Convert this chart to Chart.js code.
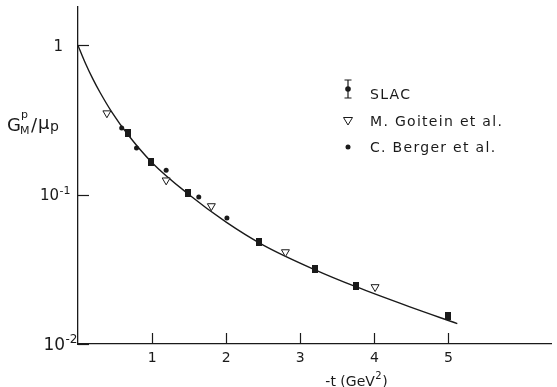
<!DOCTYPE html>
<html>
<head>
<meta charset="utf-8">
<script src="https://cdn.jsdelivr.net/npm/chart.js@4.4.0/dist/chart.umd.min.js"></script>
<style>
  html, body { margin: 0; padding: 0; background: #fff; }
  #wrap { width: 557px; height: 387px; }
</style>
</head>
<body>
<div id="wrap"><canvas id="chart" width="557" height="387"></canvas></div>
<script>
// values
const fitT = [0, 0.1, 0.2, 0.3, 0.45, 0.67, 1.0, 1.5, 2.0, 2.5, 3.2, 3.75, 4.47, 5.12];
const fitG = [1.0, 0.76, 0.597, 0.482, 0.362, 0.254, 0.164, 0.1, 0.0655, 0.046, 0.0314, 0.0242, 0.0178, 0.0137];

const slacT = [0.67, 0.99, 1.48, 2.44, 3.2, 3.75, 4.99];
const slacG = [0.259, 0.166, 0.103, 0.048, 0.032, 0.0245, 0.0154];

const goiteinT = [0.39, 1.19, 1.8, 2.8, 4.01];
const goiteinG = [0.352, 0.125, 0.084, 0.0413, 0.0241];

const bergerT = [0.59, 0.79, 1.19, 1.63, 2.01];
const bergerG = [0.28, 0.206, 0.146, 0.0966, 0.0698];

const xTickValues = [1, 2, 3, 4, 5];
const yTickValues = [0.01, 0.1, 1];
const yTickLabels = [["10", "-2"], ["10", "-1"], ["1", ""]];

const legendLabels = ["SLAC", "M. Goitein et al.", "C. Berger et al."];

const FONT = "'DejaVu Sans', sans-serif";
const INK = "#1a1a1a";

function pairs(xs, ys) {
  return xs.map((x, i) => ({ x: x, y: ys[i] }));
}

// small filled block used for the SLAC points
const slacMark = document.createElement("canvas");
slacMark.width = 6;
slacMark.height = 8;
(function () {
  const c = slacMark.getContext("2d");
  c.fillStyle = INK;
  c.fillRect(0, 0, 6, 8);
})();

// draws "base" with a raised "sup", right edge at xr
function drawPower(ctx, base, sup, xr, y, size) {
  ctx.font = size + "px " + FONT;
  const bw = ctx.measureText(base).width;
  ctx.font = Math.round(size * 0.7) + "px " + FONT;
  const sw = sup ? ctx.measureText(sup).width : 0;
  const x0 = xr - bw - sw;
  ctx.font = size + "px " + FONT;
  ctx.fillText(base, x0, y);
  if (sup) {
    ctx.font = Math.round(size * 0.7) + "px " + FONT;
    ctx.fillText(sup, x0 + bw + 0.5, y - size * 0.45);
  }
}

const decorPlugin = {
  id: "decor",
  afterDraw(chart) {
    const ctx = chart.ctx;
    const xs = chart.scales.x;
    const ys = chart.scales.y;
    const area = chart.chartArea;
    ctx.save();
    ctx.strokeStyle = INK;
    ctx.fillStyle = INK;
    ctx.lineWidth = 1.2;

    // inward tick marks
    xTickValues.forEach((v) => {
      const px = Math.round(xs.getPixelForValue(v)) + 0.5;
      ctx.beginPath();
      ctx.moveTo(px, area.bottom);
      ctx.lineTo(px, area.bottom - 11);
      ctx.stroke();
    });
    yTickValues.forEach((v) => {
      const py = Math.round(ys.getPixelForValue(v)) + 0.5;
      ctx.beginPath();
      ctx.moveTo(area.left, py);
      ctx.lineTo(area.left + 11, py);
      ctx.stroke();
    });

    // y tick labels with exponents
    ctx.textBaseline = "alphabetic";
    ctx.textAlign = "left";
    yTickValues.forEach((v, i) => {
      const py = ys.getPixelForValue(v);
      const lab = yTickLabels[i];
      const size = i === 0 ? 17 : 15;
      const xr = i === 0 ? area.left - 1 : i === 1 ? area.left - 8 : area.left - 15;
      drawPower(ctx, lab[0], lab[1], xr, py + size * 0.38, size);
    });

    // y axis title  G_M^p / mu_p
    ctx.font = "18px " + FONT;
    ctx.fillText("G", 7, 131);
    ctx.font = "11px " + FONT;
    ctx.fillText("p", 21, 118);
    ctx.fillText("M", 20, 134);
    ctx.font = "18px " + FONT;
    ctx.fillText("/", 31, 131);
    ctx.fillText("\u03bc", 38, 129);
    ctx.font = "14px " + FONT;
    ctx.fillText("p", 50, 131);

    // x axis title
    ctx.font = "14px " + FONT;
    const t1 = "-t (GeV";
    const w1 = ctx.measureText(t1).width;
    ctx.font = "10px " + FONT;
    const w2 = ctx.measureText("2").width;
    ctx.font = "14px " + FONT;
    const w3 = ctx.measureText(")").width;
    let tx = 356 - (w1 + w2 + w3) / 2;
    ctx.fillText(t1, tx, 386);
    ctx.font = "10px " + FONT;
    ctx.fillText("2", tx + w1 + 0.5, 379);
    ctx.font = "14px " + FONT;
    ctx.fillText(")", tx + w1 + w2 + 1, 386);

    // legend
    const lx = 348;
    const rows = [89, 121, 147];
    // error-bar symbol
    ctx.beginPath();
    ctx.moveTo(lx, 80);
    ctx.lineTo(lx, 98);
    ctx.moveTo(lx - 3.5, 80);
    ctx.lineTo(lx + 3.5, 80);
    ctx.moveTo(lx - 3.5, 98);
    ctx.lineTo(lx + 3.5, 98);
    ctx.stroke();
    ctx.beginPath();
    ctx.arc(lx, rows[0], 2.8, 0, Math.PI * 2);
    ctx.fill();
    // open down triangle
    ctx.lineWidth = 1;
    ctx.beginPath();
    ctx.moveTo(lx - 4.5, rows[1] - 3.5);
    ctx.lineTo(lx + 4.5, rows[1] - 3.5);
    ctx.lineTo(lx, rows[1] + 4);
    ctx.closePath();
    ctx.stroke();
    // dot
    ctx.beginPath();
    ctx.arc(lx, rows[2], 2.5, 0, Math.PI * 2);
    ctx.fill();

    ctx.font = "14px " + FONT;
    ctx.letterSpacing = "1.3px";
    ctx.fillText(legendLabels[0], 370, 99);
    ctx.fillText(legendLabels[1], 370, 126);
    ctx.fillText(legendLabels[2], 370, 152);
    ctx.restore();
  },
};

const ctx = document.getElementById("chart").getContext("2d");
new Chart(ctx, {
  type: "scatter",
  data: {
    datasets: [
      {
        type: "line",
        label: "fit",
        data: pairs(fitT, fitG),
        borderColor: INK,
        borderWidth: 1.4,
        pointRadius: 0,
        fill: false,
        cubicInterpolationMode: "monotone",
        order: 3,
      },
      {
        label: legendLabels[0],
        data: pairs(slacT, slacG),
        pointStyle: slacMark,
        pointRadius: 4,
        order: 1,
      },
      {
        label: legendLabels[1],
        data: pairs(goiteinT, goiteinG),
        pointStyle: "triangle",
        rotation: 180,
        pointRadius: 4.6,
        borderColor: INK,
        borderWidth: 1,
        backgroundColor: "#fff",
        order: 2,
      },
      {
        label: legendLabels[2],
        data: pairs(bergerT, bergerG),
        pointStyle: "circle",
        pointRadius: 2.5,
        borderWidth: 0,
        backgroundColor: INK,
        order: 1,
      },
    ],
  },
  options: {
    responsive: false,
    animation: false,
    layout: { padding: { top: 7, right: 0, left: 0, bottom: 0 } },
    plugins: {
      legend: { display: false },
      tooltip: { enabled: false },
    },
    scales: {
      x: {
        type: "linear",
        min: 0,
        max: 6.39,
        grid: { display: false, drawTicks: false },
        border: { color: INK, width: 1.3 },
        ticks: {
          color: INK,
          font: { size: 14, family: FONT },
          padding: 6,
          maxRotation: 0,
        },
        afterBuildTicks: (s) => {
          s.ticks = xTickValues.map((v) => ({ value: v }));
        },
        afterFit: (s) => {
          s.height = 43;
        },
      },
      y: {
        type: "logarithmic",
        min: 0.01,
        max: 1.81,
        grid: { display: false, drawTicks: false },
        border: { color: INK, width: 1.3 },
        ticks: { display: false },
        afterBuildTicks: (s) => {
          s.ticks = yTickValues.map((v) => ({ value: v }));
        },
        afterFit: (s) => {
          s.width = 78;
        },
      },
    },
  },
  plugins: [decorPlugin],
});
</script>
</body>
</html>
